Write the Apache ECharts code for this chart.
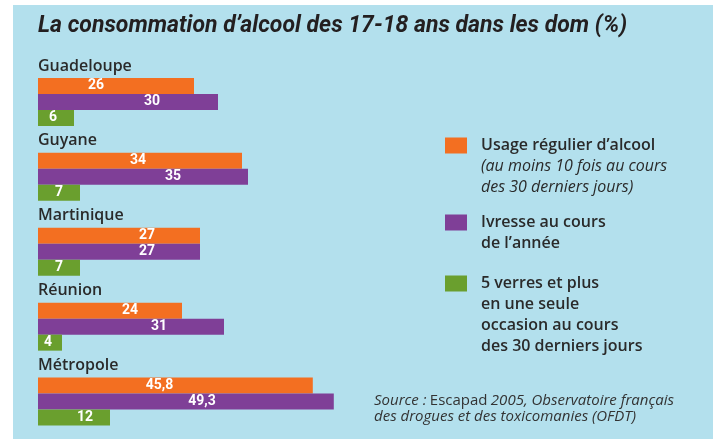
<!DOCTYPE html>
<html>
<head>
<meta charset="utf-8">
<script src="https://cdn.jsdelivr.net/npm/echarts@6/dist/echarts.min.js"></script>
<style>
html,body{margin:0;padding:0;background:#ffffff;}
#chart{width:720px;height:439px;}
</style>
</head>
<body>
<div id="chart"></div>
<script>
// ---- data ----
const categories = ['Guadeloupe', 'Guyane', 'Martinique', 'Réunion', 'Métropole'];
const usageRegulier = [26, 34, 27, 24, 45.8];
const ivresse = [30, 35, 27, 31, 49.3];
const cinqVerres = [6, 7, 7, 4, 12];
const seriesNames = ['Usage régulier', 'Ivresse', '5 verres'];

// ---- styling ----
const COLORS = ['#f36f21', '#7f3f97', '#6a9f2e'];
const TEXT = '#2a2a2a';
const FONT = 'Roboto';
const FONT2 = '"Open Sans"';
// horizontal shift of each value label from bar centre (px), per series
const labelShift = [
  [-20, -2, 28, 20, -16],
  [24, 30, 28, 28, 16],
  [-3, 0, 0, -2, 11]
];

const fmt = v => String(v).replace('.', ',');

function mkSeries(idx, values) {
  return {
    name: seriesNames[idx],
    type: 'bar',
    barWidth: 16,
    barGap: '0%',
    itemStyle: { color: COLORS[idx] },
    label: {
      show: true,
      position: 'inside',
      color: '#ffffff',
      fontFamily: FONT,
      fontWeight: 'bold',
      fontSize: 14,
      formatter: p => fmt(p.value)
    },
    data: values.map((v, i) => ({ value: v, label: { offset: [labelShift[idx][i], 0] } }))
  };
}

const legendTexts = {
  'Usage régulier': '{b|Usage régulier d’alcool}\n{i|(au moins 10 fois au cours}\n{i|des 30 derniers jours)}',
  'Ivresse': '{b|Ivresse au cours}\n{b|de l’année}',
  '5 verres': '{b|5 verres et plus}\n{b|en une seule}\n{b|occasion au cours}\n{b|des 30 derniers jours}'
};
const legendLines = [3, 2, 4];
const legendTops = [137.5, 214.5, 275.5];

const chart = echarts.init(document.getElementById('chart'), null, { renderer: 'canvas' });
chart.setOption({
  backgroundColor: '#ffffff',
  animation: false,
  graphic: [
    { type: 'rect', z: -10, silent: true, shape: { x: 13, y: 5, width: 700, height: 434 }, style: { fill: '#b3e0ed' } },
    {
      type: 'text', left: 374, top: 393,
      style: {
        text: '{i|Source :} {n|Escapad} {i|2005, Observatoire français}\n{i|des drogues et des toxicomanies (OFDT)}',
        rich: {
          i: { fontFamily: FONT2, fontStyle: 'italic', fontSize: 15, lineHeight: 16, fill: '#333333' },
          n: { fontFamily: FONT2, fontSize: 15, lineHeight: 16, fill: '#333333' }
        }
      }
    }
  ],
  title: {
    text: 'La consommation d’alcool des 17-18 ans dans les dom (%)',
    left: 38, top: 15, padding: 0,
    textStyle: { fontFamily: FONT, fontStyle: 'italic', fontWeight: 'bold', fontSize: 23, color: '#231f20' }
  },
  legend: seriesNames.map((name, k) => ({
    data: [name],
    orient: 'vertical',
    left: 445,
    top: legendTops[k],
    padding: 0,
    itemWidth: 22,
    itemHeight: 16,
    icon: 'rect',
    selectedMode: false,
    formatter: n => legendTexts[n],
    textStyle: {
      padding: [21 * (legendLines[k] - 1), 0, 0, 9],
      rich: {
        b: { fontFamily: FONT2, fontWeight: 600, fontSize: 16, lineHeight: 21, color: TEXT },
        i: { fontFamily: FONT2, fontStyle: 'italic', fontSize: 16, lineHeight: 21, color: TEXT }
      }
    }
  })),
  grid: { left: 38, top: 64.5, width: 360, height: 375, containLabel: false },
  xAxis: { type: 'value', min: 0, max: 60, show: false },
  yAxis: {
    type: 'category',
    data: categories,
    inverse: true,
    axisLine: { show: false },
    axisTick: { show: false },
    splitLine: { show: false },
    axisLabel: {
      inside: true,
      margin: 0,
      interval: 0,
      align: 'left',
      verticalAlign: 'bottom',
      lineHeight: 20,
      padding: [0, 0, 26, 0],
      fontFamily: FONT2,
      fontWeight: 600,
      fontSize: 16,
      color: TEXT
    }
  },
  series: [
    mkSeries(0, usageRegulier),
    mkSeries(1, ivresse),
    mkSeries(2, cinqVerres)
  ]
});
</script>
</body>
</html>
